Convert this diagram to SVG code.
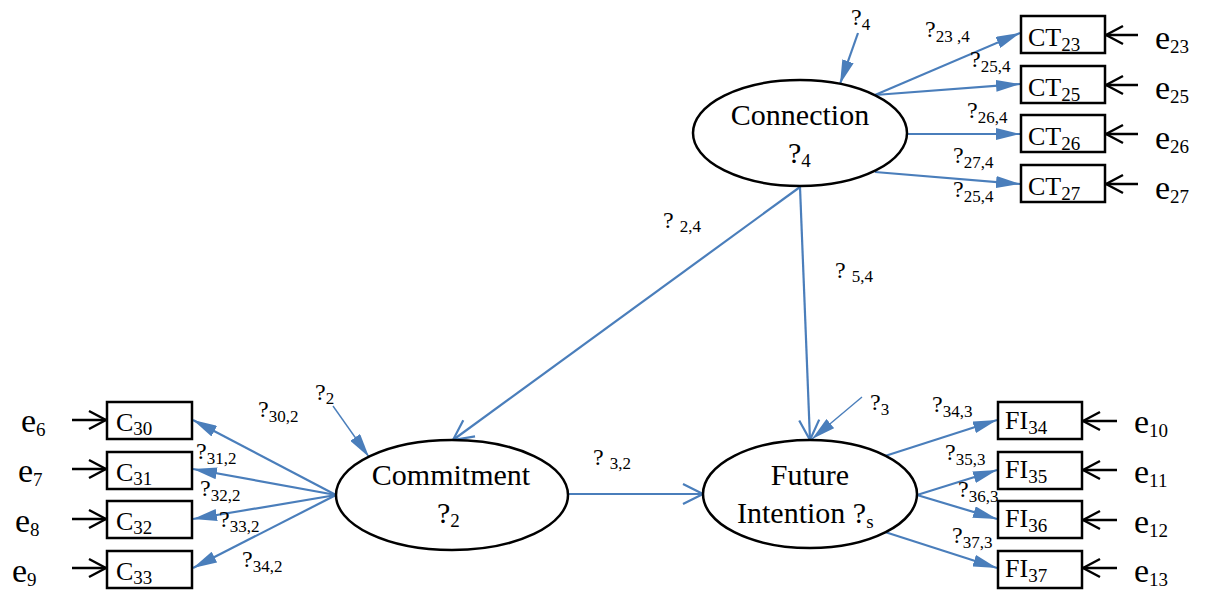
<svg xmlns="http://www.w3.org/2000/svg" width="1212" height="592" viewBox="0 0 1212 592">
<style>
.t{font-family:"Liberation Serif","Times New Roman",serif;fill:#000}
.big{font-size:30px}
.lbl{font-size:24px}
.sub{font-size:17px}
.ind{font-size:26px}
.isub{font-size:19px}
.err{font-size:34px}
.esub{font-size:19px}
.box{fill:#fff;stroke:#000;stroke-width:2.5}
.ell{fill:#fff;stroke:#000;stroke-width:2.5}
.bl{stroke:#4A7EBB;stroke-width:2.2;fill:none}
.blt{stroke:#4A7EBB;stroke-width:1.4;fill:none}
.bk{stroke:#000;stroke-width:2.5;fill:none}
</style>
<defs>
<marker id="fb" viewBox="0 0 24 12" refX="24" refY="6" markerWidth="24" markerHeight="12" markerUnits="userSpaceOnUse" orient="auto"><path d="M0,0 L24,6 L0,12 z" fill="#4A7EBB"/></marker>
<marker id="ob" viewBox="-24 -13 26 26" refX="0" refY="0" markerWidth="26" markerHeight="26" markerUnits="userSpaceOnUse" orient="auto"><path d="M-20,-10 L0,0 L-20,10" fill="none" stroke="#4A7EBB" stroke-width="2.2"/></marker>
<marker id="ok" viewBox="-20 -12 22 24" refX="0" refY="0" markerWidth="22" markerHeight="24" markerUnits="userSpaceOnUse" orient="auto"><path d="M-17,-9 L0,0 L-17,9" fill="none" stroke="#000" stroke-width="2.5"/></marker>
</defs>
<rect width="1212" height="592" fill="#fff"/>

<g id="connectors">
<line class="bl" x1="800" y1="187" x2="453" y2="440" marker-end="url(#ob)"/>
<line class="bl" x1="800" y1="187" x2="810" y2="440" marker-end="url(#ob)"/>
<line class="bl" x1="568" y1="494" x2="703" y2="494" marker-end="url(#ob)"/>
<line class="bl" x1="858" y1="33" x2="840" y2="84" marker-end="url(#fb)"/>
<line class="blt" x1="333" y1="406" x2="369" y2="457" marker-end="url(#fb)"/>
<line class="blt" x1="862" y1="397" x2="812" y2="439" marker-end="url(#fb)"/>
<line class="bl" x1="875" y1="95" x2="1020" y2="33" marker-end="url(#fb)"/>
<line class="bl" x1="875" y1="95" x2="1020" y2="84" marker-end="url(#fb)"/>
<line class="bl" x1="908" y1="134" x2="1020" y2="134" marker-end="url(#fb)"/>
<line class="bl" x1="875" y1="172" x2="1020" y2="184" marker-end="url(#fb)"/>
<line class="bl" x1="336" y1="495" x2="193" y2="420" marker-end="url(#fb)"/>
<line class="bl" x1="336" y1="495" x2="193" y2="469" marker-end="url(#fb)"/>
<line class="bl" x1="336" y1="495" x2="193" y2="519" marker-end="url(#fb)"/>
<line class="bl" x1="336" y1="495" x2="193" y2="568" marker-end="url(#fb)"/>
<line class="bl" x1="885" y1="456" x2="997" y2="420" marker-end="url(#fb)"/>
<line class="bl" x1="917" y1="495" x2="997" y2="470" marker-end="url(#fb)"/>
<line class="bl" x1="917" y1="495" x2="997" y2="519" marker-end="url(#fb)"/>
<line class="bl" x1="885" y1="532" x2="997" y2="568" marker-end="url(#fb)"/>
<line class="bk" x1="1138" y1="35" x2="1106" y2="35" marker-end="url(#ok)"/>
<line class="bk" x1="1138" y1="85" x2="1106" y2="85" marker-end="url(#ok)"/>
<line class="bk" x1="1138" y1="134" x2="1106" y2="134" marker-end="url(#ok)"/>
<line class="bk" x1="1138" y1="184" x2="1106" y2="184" marker-end="url(#ok)"/>
<line class="bk" x1="1117" y1="421" x2="1083" y2="421" marker-end="url(#ok)"/>
<line class="bk" x1="1117" y1="470" x2="1083" y2="470" marker-end="url(#ok)"/>
<line class="bk" x1="1117" y1="520" x2="1083" y2="520" marker-end="url(#ok)"/>
<line class="bk" x1="1117" y1="568" x2="1083" y2="568" marker-end="url(#ok)"/>
<line class="bk" x1="72" y1="420" x2="106" y2="420" marker-end="url(#ok)"/>
<line class="bk" x1="72" y1="469" x2="106" y2="469" marker-end="url(#ok)"/>
<line class="bk" x1="72" y1="519" x2="106" y2="519" marker-end="url(#ok)"/>
<line class="bk" x1="72" y1="568" x2="106" y2="568" marker-end="url(#ok)"/>
<text class="t lbl" x="663" y="228">? <tspan class="sub" dy="4">2,4</tspan></text>
<text class="t lbl" x="835" y="278">? <tspan class="sub" dy="4">5,4</tspan></text>
<text class="t lbl" x="593" y="465">? <tspan class="sub" dy="4">3,2</tspan></text>
<text class="t lbl" x="851" y="25">?<tspan class="sub" dy="5">4</tspan></text>
<text class="t lbl" x="315" y="400">?<tspan class="sub" dy="4">2</tspan></text>
<text class="t lbl" x="870" y="410">?<tspan class="sub" dy="5">3</tspan></text>
<text class="t lbl" x="925" y="37">?<tspan class="sub" dy="5">23 ,4</tspan></text>
<text class="t lbl" x="970" y="67">?<tspan class="sub" dy="5">25,4</tspan></text>
<text class="t lbl" x="967" y="118">?<tspan class="sub" dy="5">26,4</tspan></text>
<text class="t lbl" x="953" y="163">?<tspan class="sub" dy="5">27,4</tspan></text>
<text class="t lbl" x="953" y="197">?<tspan class="sub" dy="5">25,4</tspan></text>
<text class="t lbl" x="258" y="417">?<tspan class="sub" dy="5">30,2</tspan></text>
<text class="t lbl" x="196" y="459">?<tspan class="sub" dy="5">31,2</tspan></text>
<text class="t lbl" x="200" y="496">?<tspan class="sub" dy="5">32,2</tspan></text>
<text class="t lbl" x="219" y="527">?<tspan class="sub" dy="5">33,2</tspan></text>
<text class="t lbl" x="242" y="567">?<tspan class="sub" dy="5">34,2</tspan></text>
<text class="t lbl" x="932" y="412">?<tspan class="sub" dy="5">34,3</tspan></text>
<text class="t lbl" x="945" y="460">?<tspan class="sub" dy="5">35,3</tspan></text>
<text class="t lbl" x="958" y="497">?<tspan class="sub" dy="5">36,3</tspan></text>
<text class="t lbl" x="952" y="543">?<tspan class="sub" dy="5">37,3</tspan></text>
</g>

<g id="n-connection">
<ellipse class="ell" cx="800" cy="133" rx="107" ry="53"/>
<text class="t big" x="800" y="125" text-anchor="middle">Connection</text>
<text class="t big" x="788" y="163">?<tspan class="isub" dy="4">4</tspan></text>
</g>
<g id="n-commitment">
<ellipse class="ell" cx="452" cy="495" rx="116" ry="55"/>
<text class="t big" x="451" y="485" text-anchor="middle">Commitment</text>
<text class="t big" x="437" y="523">?<tspan class="isub" dy="4">2</tspan></text>
</g>
<g id="n-future">
<ellipse class="ell" cx="810" cy="494" rx="107" ry="54"/>
<text class="t big" x="810" y="485" text-anchor="middle">Future</text>
<text class="t big" x="737" y="523">Intention ?<tspan class="isub" dy="5">s</tspan></text>
</g>

<g id="n-ct23"><rect class="box" x="1021" y="16" width="84" height="37"/><text class="t ind" x="1028" y="46">CT<tspan class="isub" dy="5">23</tspan></text></g>
<g id="n-ct25"><rect class="box" x="1021" y="66" width="84" height="37"/><text class="t ind" x="1028" y="96">CT<tspan class="isub" dy="5">25</tspan></text></g>
<g id="n-ct26"><rect class="box" x="1021" y="115" width="84" height="37"/><text class="t ind" x="1028" y="145">CT<tspan class="isub" dy="5">26</tspan></text></g>
<g id="n-ct27"><rect class="box" x="1021" y="165" width="84" height="37"/><text class="t ind" x="1028" y="195">CT<tspan class="isub" dy="5">27</tspan></text></g>

<g id="n-c30"><rect class="box" x="107" y="402" width="85" height="37"/><text class="t ind" x="116" y="431">C<tspan class="isub" dy="4">30</tspan></text></g>
<g id="n-c31"><rect class="box" x="107" y="452" width="85" height="37"/><text class="t ind" x="116" y="481">C<tspan class="isub" dy="4">31</tspan></text></g>
<g id="n-c32"><rect class="box" x="107" y="501" width="85" height="37"/><text class="t ind" x="116" y="530">C<tspan class="isub" dy="4">32</tspan></text></g>
<g id="n-c33"><rect class="box" x="107" y="551" width="85" height="37"/><text class="t ind" x="116" y="580">C<tspan class="isub" dy="4">33</tspan></text></g>

<g id="n-fi34"><rect class="box" x="998" y="402" width="84" height="37"/><text class="t ind" x="1005" y="429">FI<tspan class="isub" dy="5">34</tspan></text></g>
<g id="n-fi35"><rect class="box" x="998" y="452" width="84" height="37"/><text class="t ind" x="1005" y="478">FI<tspan class="isub" dy="5">35</tspan></text></g>
<g id="n-fi36"><rect class="box" x="998" y="501" width="84" height="37"/><text class="t ind" x="1005" y="527">FI<tspan class="isub" dy="5">36</tspan></text></g>
<g id="n-fi37"><rect class="box" x="998" y="551" width="84" height="37"/><text class="t ind" x="1005" y="577">FI<tspan class="isub" dy="5">37</tspan></text></g>

<g id="n-e23"><text class="t err" x="1155" y="49">e<tspan class="esub" dy="4">23</tspan></text></g>
<g id="n-e25"><text class="t err" x="1155" y="99">e<tspan class="esub" dy="4">25</tspan></text></g>
<g id="n-e26"><text class="t err" x="1155" y="149">e<tspan class="esub" dy="4">26</tspan></text></g>
<g id="n-e27"><text class="t err" x="1155" y="199">e<tspan class="esub" dy="4">27</tspan></text></g>
<g id="n-e10"><text class="t err" x="1134" y="433">e<tspan class="esub" dy="4">10</tspan></text></g>
<g id="n-e11"><text class="t err" x="1134" y="483">e<tspan class="esub" dy="4">11</tspan></text></g>
<g id="n-e12"><text class="t err" x="1134" y="533">e<tspan class="esub" dy="4">12</tspan></text></g>
<g id="n-e13"><text class="t err" x="1134" y="582">e<tspan class="esub" dy="4">13</tspan></text></g>
<g id="n-e6"><text class="t err" x="21" y="432">e<tspan class="esub" dy="4">6</tspan></text></g>
<g id="n-e7"><text class="t err" x="18" y="482">e<tspan class="esub" dy="4">7</tspan></text></g>
<g id="n-e8"><text class="t err" x="15" y="532">e<tspan class="esub" dy="4">8</tspan></text></g>
<g id="n-e9"><text class="t err" x="12" y="582">e<tspan class="esub" dy="4">9</tspan></text></g>
</svg>
